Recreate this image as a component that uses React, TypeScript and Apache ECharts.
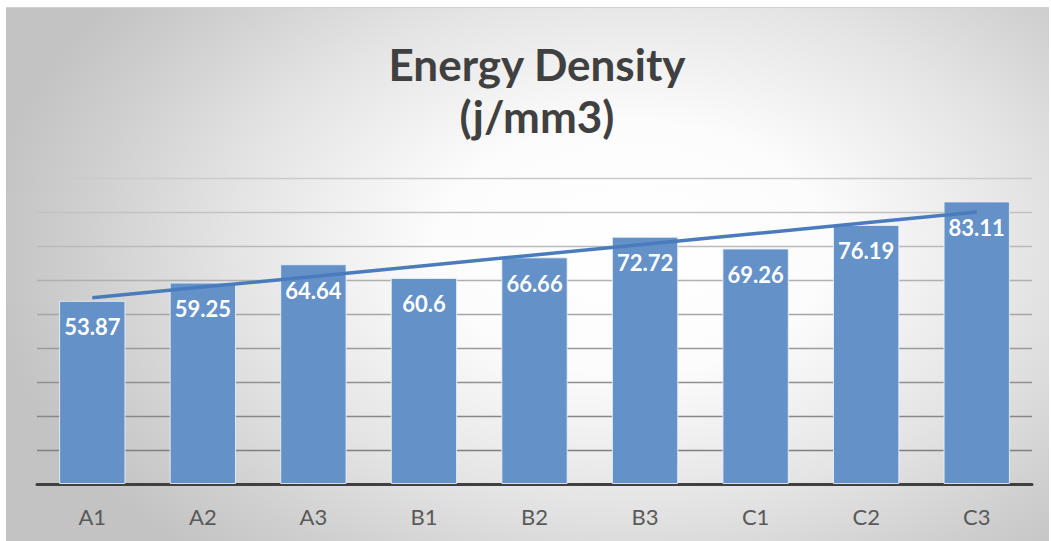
import React, { useEffect, useRef } from "react";
import * as echarts from "echarts";

// Sample groups and their measured energy density
const categories = ["A1", "A2", "A3", "B1", "B2", "B3", "C1", "C2", "C3"];
const energyDensity = [53.87, 59.25, 64.64, 60.6, 66.66, 72.72, 69.26, 76.19, 83.11];

// Value axis range
const yMin = 0;
const yMax = 90;
const yInterval = 10;

// Gridline shades from the bottom line upward
const gridShades = [
  "#7a7a7a", "#808080", "#888888", "#909090", "#9a9a9a",
  "#a6a6a6", "#b0b0b0", "#bababa", "#c2c2c2", "#cbcbcb",
];

// Least-squares linear trend over the category index
function linearTrend(values: number[]): number[] {
  const n = values.length;
  const xs = values.map((_, i) => i + 1);
  const mx = xs.reduce((a, b) => a + b, 0) / n;
  const my = values.reduce((a, b) => a + b, 0) / n;
  let sxy = 0;
  let sxx = 0;
  for (let i = 0; i < n; i++) {
    sxy += (xs[i] - mx) * (values[i] - my);
    sxx += (xs[i] - mx) * (xs[i] - mx);
  }
  const slope = sxy / sxx;
  const intercept = my - slope * mx;
  return xs.map((x) => +(intercept + slope * x).toFixed(3));
}

export default function App() {
  const ref = useRef<HTMLDivElement>(null);

  useEffect(() => {
    if (!ref.current) return;
    const chart = echarts.init(ref.current, undefined, { renderer: "svg" });
    chart.setOption({
      animation: false,
      backgroundColor: "transparent",
      title: {
        text: "Energy Density\n(j/mm3)",
        left: 532,
        top: 33,
        textAlign: "center",
        textStyle: {
          fontFamily: "Lato",
          fontWeight: "bold",
          fontSize: 44,
          lineHeight: 52,
          color: "#404040",
        },
      },
      grid: { left: 37, right: 19, top: 178, bottom: 57, containLabel: false },
      xAxis: {
        type: "category",
        data: categories,
        axisLine: { show: true, lineStyle: { color: "#404040", width: 3 } },
        axisTick: { show: false },
        axisLabel: {
          margin: 21,
          fontFamily: "Lato",
          fontSize: 22,
          color: "#595959",
        },
      },
      yAxis: {
        type: "value",
        min: yMin,
        max: yMax,
        interval: yInterval,
        axisLabel: { show: false },
        axisLine: { show: false },
        axisTick: { show: false },
        splitLine: {
          show: true,
          lineStyle: { color: gridShades, width: 1.3 },
        },
      },
      series: [
        {
          type: "bar",
          data: energyDensity,
          barWidth: "60%",
          itemStyle: {
            color: "#6391c8",
            borderColor: "rgba(235,242,250,0.85)",
            borderWidth: 1,
          },
          label: {
            show: true,
            position: "insideTop",
            distance: 15,
            fontFamily: "Lato",
            fontWeight: "bold",
            fontSize: 22,
            color: "#ffffff",
          },
          z: 2,
        },
        {
          type: "line",
          data: linearTrend(energyDensity),
          showSymbol: false,
          symbol: "none",
          lineStyle: { color: "#4a7cbd", width: 3.5 },
          z: 3,
        },
      ],
    });
    return () => chart.dispose();
  }, []);

  return (
    <div
      style={{
        position: "absolute",
        left: 0,
        top: 0,
        width: 1051,
        height: 541,
        background: "#ffffff",
        overflow: "hidden",
      }}
    >
      <div
        style={{
          position: "absolute",
          left: 6,
          top: 7,
          width: 1043,
          height: 534,
          boxSizing: "border-box",
          borderTop: "1.5px solid #d2d2d2",
          background:
            "radial-gradient(ellipse 62% 78% at 60% 45%, #ffffff 0%, #fcfcfc 30%, #e4e4e4 62%, #cfcfcf 85%, #c3c3c3 100%)",
        }}
      />
      <div
        ref={ref}
        style={{ position: "absolute", left: 0, top: 0, width: 1051, height: 541 }}
      />
    </div>
  );
}
